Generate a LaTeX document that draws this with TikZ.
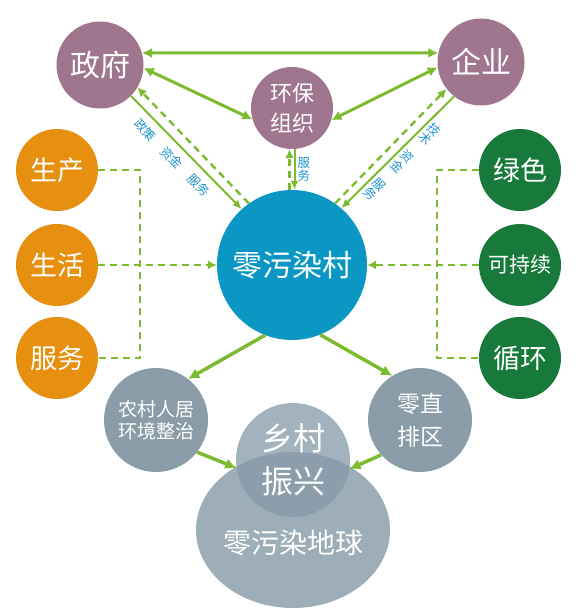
\documentclass[tikz,border=0pt]{standalone}
\usepackage{fontspec}
\setmainfont{Noto Sans CJK SC}
\usepackage{tikz}
\usetikzlibrary{arrows.meta,shapes.geometric}
\usepackage{xcolor}
\definecolor{govpurple}{HTML}{A0768F}
\definecolor{cunblue}{HTML}{0B97C4}
\definecolor{lifeorange}{HTML}{E78F0E}
\definecolor{ecogreen}{HTML}{177A3B}
\definecolor{stepgray}{HTML}{8A9CA8}
\definecolor{earthgray}{HTML}{9DAEB9}
\definecolor{xclight}{HTML}{A3B3BD}
\definecolor{xcdark}{HTML}{8C9EAB}
\definecolor{linkgreen}{HTML}{7CBA2F}
\definecolor{lblblue}{HTML}{1E95D0}
\newcommand{\sizept}[2]{\fontsize{#1}{#2}\selectfont}
\tikzset{
  disc/.style={circle, inner sep=0pt, align=center, text=white},
  govnode/.style={disc, fill=govpurple, minimum size=87pt, font=\sizept{30}{36}},
  cunnode/.style={disc, fill=cunblue, minimum size=150pt, font=\sizept{30}{36}},
  lifenode/.style={disc, fill=lifeorange, minimum size=82pt, font=\sizept{27}{32}},
  econode/.style={disc, fill=ecogreen, minimum size=82pt, font=\sizept{27}{32}},
  graynode/.style={disc, fill=stepgray, minimum size=104pt},
  biarrow/.style={{Latex[length=10pt,width=10pt]}-{Latex[length=10pt,width=10pt]}, line width=3pt, draw=linkgreen},
  arrow/.style={-{Latex[length=11pt,width=11pt]}, line width=3.5pt, draw=linkgreen},
  thinarrow/.style={-{Latex[length=9pt,width=8pt]}, line width=2pt, draw=linkgreen},
  dashedarrow/.style={-{Latex[length=9pt,width=9pt]}, line width=2.4pt, draw=linkgreen, dash pattern=on 7pt off 5pt},
  dashedline/.style={line width=2.4pt, draw=linkgreen, dash pattern=on 7pt off 5pt}
}
\begin{document}
\begin{tikzpicture}[x=1pt, y=-1pt, lbl/.style={font=\sizept{12.5}{13.5}, text=lblblue, align=center, inner sep=1pt}]
\path[use as bounding box, fill=white] (0,0) rectangle (586,615);
\node[govnode] (zf) at (100,65) {政府};
\node[govnode] (qy) at (481,62) {企业};
\node[govnode, minimum size=82pt, font=\sizept{22}{30}] (hb) at (292,108) {环保\\组织};
\node[cunnode] (cun) at (292,265) {零污染村};
\node[lifenode] (sc) at (57,170) {生产};
\node[lifenode] (sh) at (57,265) {生活};
\node[lifenode] (fw) at (57,358) {服务};
\node[econode] (ls) at (520,170) {绿色};
\node[econode, font=\sizept{21}{26}] (kcx) at (520,265) {可持续};
\node[econode] (xh) at (520,358) {循环};
\node[graynode, font=\sizept{19}{22}] (nc) at (156,420) {农村人居\\环境整治};
\node[graynode, font=\sizept{23}{33}] (zpq) at (420,420) {零直\\排区};
\node[ellipse, fill=earthgray, minimum width=194pt, minimum height=156pt, inner sep=0pt] (dq) at (293,530) {};
\node[disc, fill=xclight, minimum size=114pt, font=\sizept{32}{43},
  path picture={\fill[xcdark] (dq.center) ellipse [x radius=97, y radius=78];}] (xc) at (293,460) {乡村\\振兴};
\node[font=\sizept{28}{34}, text=white] (dqtxt) at (293,543) {零污染地球};
\coordinate (lj) at (140,265);
\coordinate (rj) at (437,265);
\draw[biarrow] (zf.16) -- (qy.168);
\draw[biarrow] (zf.-4) -- (hb.196);
\draw[biarrow] (qy.187) -- (hb.343);
\draw[thinarrow] (zf.-45) -- node[lbl, sloped, below=6pt, pos=0.46] (zflbl) {政策\hspace{13pt}资金\hspace{13pt}服务} (cun.132);
\draw[dashedarrow] (cun.125) -- (zf.-31);
\draw[thinarrow] (qy.232) -- node[lbl, pos=0.52, rotate=-45, anchor=west, inner sep=2.5pt] (qylbl) {技\\术\\[12pt]资\\金\\[12pt]服\\务} (cun.49);
\draw[dashedarrow] (cun.55) -- (qy.218);
\draw[thinarrow] ([xshift=2.5pt]hb.south) -- node[lbl, right=1pt] (hblbl) {服\\务} ([xshift=2.5pt]cun.north);
\draw[dashedarrow] ([xshift=-2.5pt]cun.north) -- ([xshift=-2.5pt]hb.south);
\draw[dashedline] (sc.east) -| (lj) |- (fw.east);
\draw[dashedarrow] (sh) -- (cun);
\draw[dashedline] (ls.west) -| (rj) |- (xh.west);
\draw[dashedarrow] (kcx) -- (cun);
\draw[arrow] (cun.249) -- (nc.52);
\draw[arrow] (cun.292) -- (zpq.122);
\draw[arrow] (nc.-38) -- (xc.188);
\draw[arrow] (zpq.222) -- (xc.-9);
\end{tikzpicture}
\end{document}
